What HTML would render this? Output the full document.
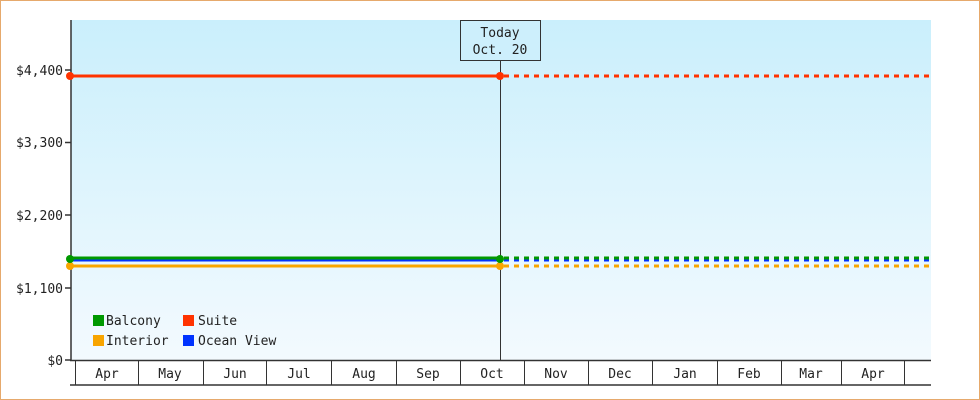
<!DOCTYPE html>
<html><head><meta charset="utf-8"><style>
html,body{margin:0;padding:0;background:#fff}
svg{display:block}
text{font-family:"DejaVu Sans Mono","Liberation Mono",monospace;font-size:13px;fill:#222}
</style></head><body>
<svg width="980" height="400" viewBox="0 0 980 400" xmlns="http://www.w3.org/2000/svg">
<defs><linearGradient id="g" x1="0" y1="0" x2="0" y2="1"><stop offset="0" stop-color="#caeffc"/><stop offset="1" stop-color="#f3fafe"/></linearGradient></defs>
<rect x="0.5" y="0.5" width="979" height="399" fill="#fff" stroke="#e6a96c"/>
<rect x="71" y="20" width="860" height="340" fill="url(#g)"/>
<g stroke="#333" stroke-width="1.5">
<line x1="71" y1="20" x2="71" y2="361"/>
<line x1="65" y1="70" x2="71" y2="70"/><line x1="65" y1="142.5" x2="71" y2="142.5"/><line x1="65" y1="215" x2="71" y2="215"/><line x1="65" y1="288" x2="71" y2="288"/><line x1="65" y1="360" x2="71" y2="360"/>
<line x1="70" y1="360.5" x2="931" y2="360.5"/><line x1="70" y1="385" x2="931" y2="385"/>
</g>
<g stroke="#333" stroke-width="1">
<line x1="75.5" y1="360" x2="75.5" y2="385"/><line x1="138.5" y1="360" x2="138.5" y2="385"/><line x1="203.5" y1="360" x2="203.5" y2="385"/><line x1="266.5" y1="360" x2="266.5" y2="385"/><line x1="331.5" y1="360" x2="331.5" y2="385"/><line x1="396.5" y1="360" x2="396.5" y2="385"/><line x1="460.5" y1="360" x2="460.5" y2="385"/><line x1="524.5" y1="360" x2="524.5" y2="385"/><line x1="588.5" y1="360" x2="588.5" y2="385"/><line x1="652.5" y1="360" x2="652.5" y2="385"/><line x1="717.5" y1="360" x2="717.5" y2="385"/><line x1="781.5" y1="360" x2="781.5" y2="385"/><line x1="841.5" y1="360" x2="841.5" y2="385"/><line x1="904.5" y1="360" x2="904.5" y2="385"/>
<line x1="500.5" y1="60" x2="500.5" y2="360"/>
</g>
<g text-anchor="end"><text x="63" y="75">$4,400</text><text x="63" y="147">$3,300</text><text x="63" y="220">$2,200</text><text x="63" y="293">$1,100</text><text x="63" y="365">$0</text></g>
<g text-anchor="middle"><text x="107" y="378">Apr</text><text x="170" y="378">May</text><text x="235" y="378">Jun</text><text x="299" y="378">Jul</text><text x="364" y="378">Aug</text><text x="428" y="378">Sep</text><text x="492" y="378">Oct</text><text x="556" y="378">Nov</text><text x="620" y="378">Dec</text><text x="685" y="378">Jan</text><text x="749" y="378">Feb</text><text x="811" y="378">Mar</text><text x="873" y="378">Apr</text></g>
<rect x="460.5" y="20.5" width="80" height="40" fill="#cdeffc" stroke="#333"/>
<g text-anchor="middle"><text x="500" y="37">Today</text><text x="500" y="54">Oct. 20</text></g>
<g stroke-width="3">
<line x1="70" y1="76" x2="500" y2="76" stroke="#ff3300"/><line x1="504" y1="76" x2="931" y2="76" stroke="#ff3300" stroke-dasharray="5,5"/>
<line x1="70" y1="266" x2="500" y2="266" stroke="#f8a500"/><line x1="504" y1="266" x2="931" y2="266" stroke="#f8a500" stroke-dasharray="5,5"/>
<line x1="70" y1="260" x2="500" y2="260" stroke="#0033ff"/><line x1="504" y1="260" x2="931" y2="260" stroke="#0033ff" stroke-dasharray="5,5"/>
<line x1="70" y1="258" x2="500" y2="258" stroke="#009900"/><line x1="504" y1="258" x2="931" y2="258" stroke="#009900" stroke-dasharray="5,5"/>
</g>
<g><circle cx="70" cy="76" r="4" fill="#ff3300"/><circle cx="500" cy="76" r="4" fill="#ff3300"/>
<circle cx="70" cy="266" r="4" fill="#f8a500"/><circle cx="500" cy="266" r="4" fill="#f8a500"/>
<circle cx="70" cy="259" r="4" fill="#009900"/><circle cx="500" cy="259" r="4" fill="#009900"/></g>
<rect x="93" y="315" width="11" height="11" fill="#009900"/><text x="106" y="325">Balcony</text>
<rect x="183" y="315" width="11" height="11" fill="#ff3300"/><text x="198" y="325">Suite</text>
<rect x="93" y="335" width="11" height="11" fill="#f8a500"/><text x="106" y="345">Interior</text>
<rect x="183" y="335" width="11" height="11" fill="#0033ff"/><text x="198" y="345">Ocean View</text>
</svg>
</body></html>
